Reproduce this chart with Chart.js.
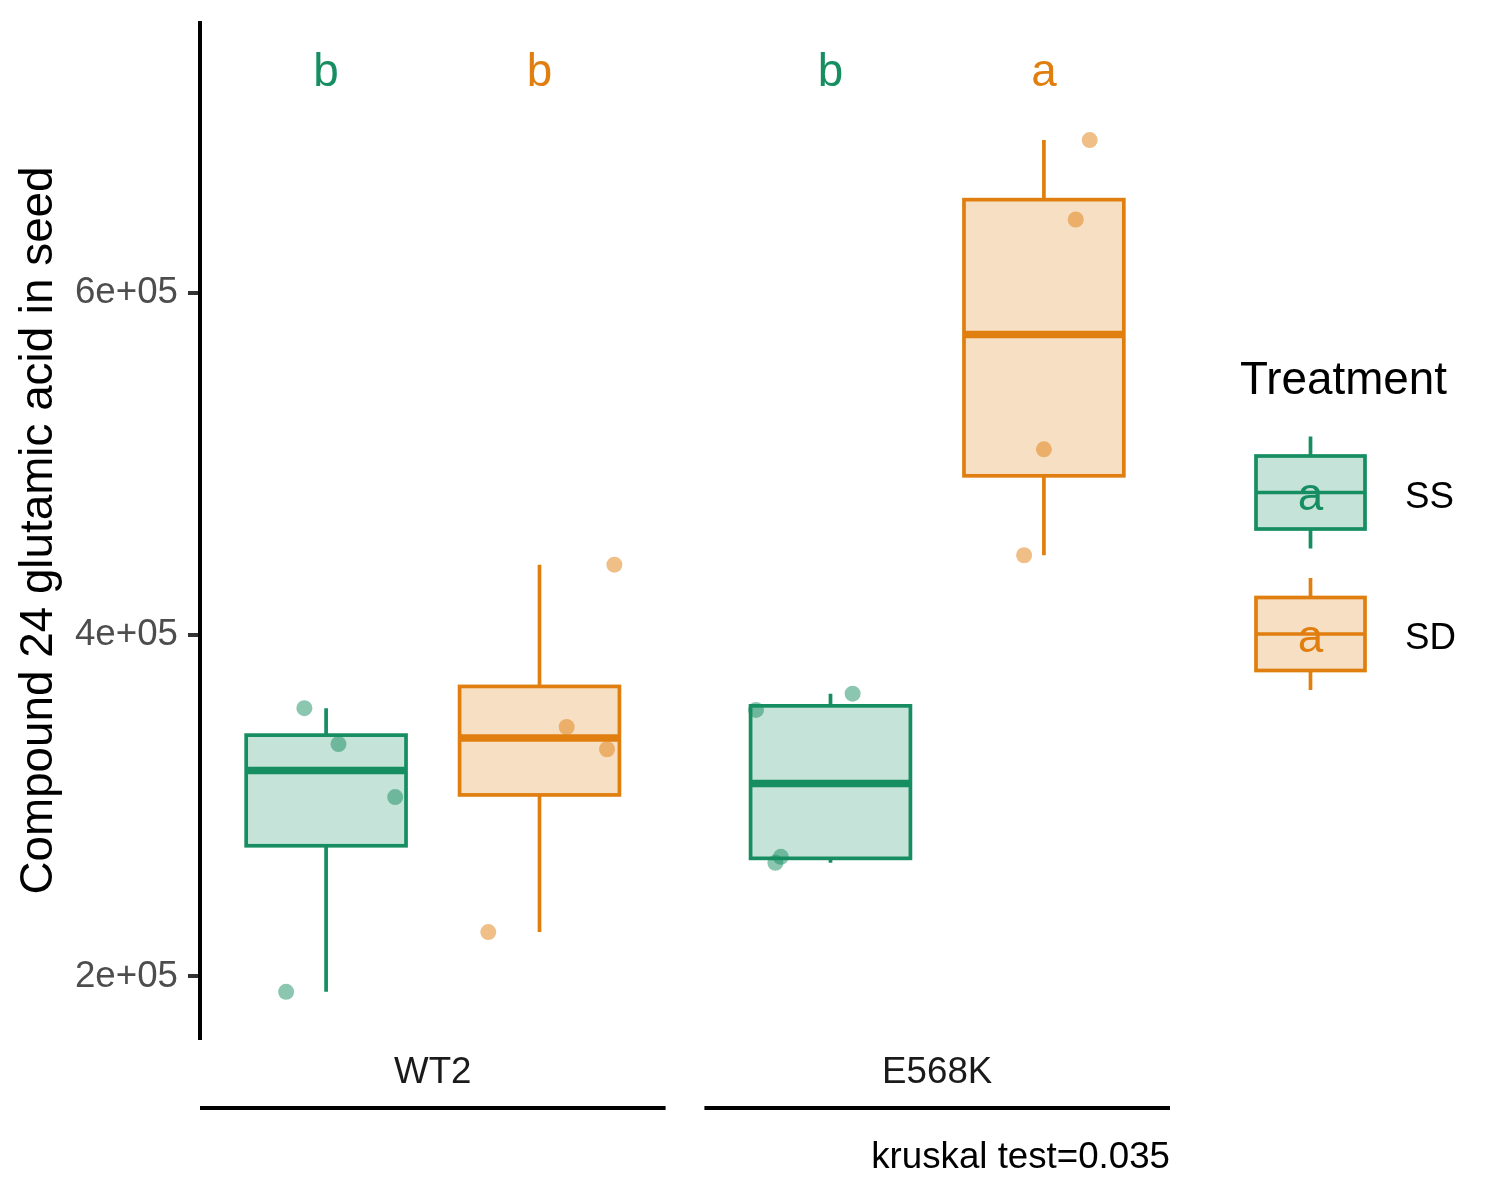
<!DOCTYPE html>
<html>
<head>
<meta charset="utf-8">
<script src="https://cdn.jsdelivr.net/npm/chart.js@4.4.0/dist/chart.umd.min.js"></script>
<style>
  html, body { margin: 0; padding: 0; background: #fff; }
  #wrap { width: 1500px; height: 1200px; }
</style>
</head>
<body>
<div id="wrap"><canvas id="myChart" width="1500" height="1200"></canvas></div>
<script>
// Data
const genotypes = ["WT2", "E568K"];
const treatments = ["SS", "SD"];
// four samples per genotype, per treatment
const ssValues = [[357000, 336000, 305000, 191000], [365500, 356000, 270000, 266500]];
const sdValues = [[441000, 346000, 333000, 226000], [689500, 643000, 508500, 446500]];
// horizontal jitter of each sample (x units)
const ssJitter = [[-0.056, 0.032, 0.178, -0.103], [0.057, -0.192, -0.128, -0.142]];
const sdJitter = [[0.193, 0.070, 0.174, -0.132], [0.118, 0.082, 0.0, -0.051]];
// significance letters
const ssLetters = ["b", "b"];
const sdLetters = ["b", "a"];
const letterY = 728500;
const yTicks = [200000, 400000, 600000];
const yTickLabels = ["2e+05", "4e+05", "6e+05"];
const yTitle = "Compound 24 glutamic acid in seed";
const caption = "kruskal test=0.035";
const legendTitle = "Treatment";

const groupCenters = [1, 2.3];
const dodge = [-0.275, 0.275];
const boxHalf = 0.206;
const panelHalf = 0.6;

const lineColors = ["#168E62", "#E07F10"];
const fillColors = ["rgba(22,142,98,0.25)", "rgba(224,127,16,0.25)"];
const pointColors = ["rgba(22,142,98,0.5)", "rgba(224,127,16,0.5)"];
const FONT = "'Liberation Sans', Arial, sans-serif";
Chart.defaults.font.family = FONT;

const values = [ssValues, sdValues];
const jitters = [ssJitter, sdJitter];
const letters = [ssLetters, sdLetters];

function quantile(sorted, p) {
  const h = (sorted.length - 1) * p;
  const lo = Math.floor(h);
  const next = lo + 1 < sorted.length ? sorted[lo + 1] : sorted[lo];
  return sorted[lo] + (h - lo) * (next - sorted[lo]);
}

function boxStats(arr) {
  const s = arr.slice().sort((a, b) => a - b);
  const q1 = quantile(s, 0.25), med = quantile(s, 0.5), q3 = quantile(s, 0.75);
  const iqr = q3 - q1;
  const lo = Math.min(...s.filter(v => v >= q1 - 1.5 * iqr));
  const hi = Math.max(...s.filter(v => v <= q3 + 1.5 * iqr));
  return { q1, med, q3, lo, hi };
}

const stats = values.map(t => t.map(boxStats));

// box + whiskers, drawn under the points
const boxPlugin = {
  id: "boxes",
  beforeDatasetsDraw(chart) {
    const { ctx, scales: { x, y } } = chart;
    ctx.save();
    treatments.forEach((t, ti) => {
      genotypes.forEach((g, gi) => {
        const s = stats[ti][gi];
        const c = groupCenters[gi] + dodge[ti];
        const x0 = x.getPixelForValue(c - boxHalf);
        const x1 = x.getPixelForValue(c + boxHalf);
        const xc = x.getPixelForValue(c);
        const yt = y.getPixelForValue(s.q3);
        const yb = y.getPixelForValue(s.q1);
        ctx.strokeStyle = lineColors[ti];
        ctx.lineWidth = 3.7;
        ctx.beginPath();
        ctx.moveTo(xc, y.getPixelForValue(s.hi));
        ctx.lineTo(xc, yt);
        ctx.moveTo(xc, yb);
        ctx.lineTo(xc, y.getPixelForValue(s.lo));
        ctx.stroke();
        ctx.fillStyle = fillColors[ti];
        ctx.fillRect(x0, yt, x1 - x0, yb - yt);
        ctx.strokeRect(x0, yt, x1 - x0, yb - yt);
        ctx.lineWidth = 7.5;
        const ym = y.getPixelForValue(s.med);
        ctx.beginPath();
        ctx.moveTo(x0, ym);
        ctx.lineTo(x1, ym);
        ctx.stroke();
      });
    });
    ctx.restore();
  },
  afterDatasetsDraw(chart) {
    const { ctx, scales: { x, y } } = chart;
    ctx.save();
    ctx.font = "45.8px " + FONT;
    ctx.textAlign = "center";
    ctx.textBaseline = "middle";
    treatments.forEach((t, ti) => {
      genotypes.forEach((g, gi) => {
        ctx.fillStyle = lineColors[ti];
        ctx.fillText(letters[ti][gi], x.getPixelForValue(groupCenters[gi] + dodge[ti]), y.getPixelForValue(letterY));
      });
    });
    ctx.restore();
  },
  afterDraw(chart) {
    const { ctx, chartArea, scales: { x } } = chart;
    ctx.save();
    // lines under the genotype labels
    ctx.strokeStyle = "#000";
    ctx.lineWidth = 4;
    const ly = chartArea.bottom + 70;
    groupCenters.forEach(c => {
      ctx.beginPath();
      ctx.moveTo(x.getPixelForValue(c - panelHalf), ly);
      ctx.lineTo(x.getPixelForValue(c + panelHalf), ly);
      ctx.stroke();
    });
    // legend
    const lx = chartArea.right + 70;
    const mid = (chartArea.top + chartArea.bottom) / 2;
    ctx.fillStyle = "#000";
    ctx.font = "45.8px " + FONT;
    ctx.textAlign = "left";
    ctx.textBaseline = "alphabetic";
    ctx.fillText(legendTitle, lx, mid - 137);
    treatments.forEach((t, ti) => {
      const cy = mid - 38 + ti * 141.5;
      const kx0 = lx + 16, kx1 = lx + 125, kc = (kx0 + kx1) / 2;
      ctx.strokeStyle = lineColors[ti];
      ctx.lineWidth = 3.7;
      ctx.beginPath();
      ctx.moveTo(kc, cy - 56);
      ctx.lineTo(kc, cy - 36.5);
      ctx.moveTo(kc, cy + 36.5);
      ctx.lineTo(kc, cy + 56);
      ctx.stroke();
      ctx.fillStyle = fillColors[ti];
      ctx.fillRect(kx0, cy - 36.5, kx1 - kx0, 73);
      ctx.strokeRect(kx0, cy - 36.5, kx1 - kx0, 73);
      ctx.beginPath();
      ctx.moveTo(kx0, cy);
      ctx.lineTo(kx1, cy);
      ctx.stroke();
      ctx.fillStyle = lineColors[ti];
      ctx.font = "45.8px " + FONT;
      ctx.textAlign = "center";
      ctx.textBaseline = "middle";
      ctx.fillText("a", kc, cy + 5);
      ctx.fillStyle = "#000";
      ctx.font = "36.7px " + FONT;
      ctx.textAlign = "left";
      ctx.textBaseline = "alphabetic";
      ctx.fillText(t, lx + 165, cy + 15);
    });
    ctx.restore();
  }
};

const datasets = treatments.map((t, ti) => ({
  label: t,
  data: genotypes.flatMap((g, gi) =>
    values[ti][gi].map((v, k) => ({ x: groupCenters[gi] + dodge[ti] + jitters[ti][gi][k], y: v }))),
  backgroundColor: pointColors[ti],
  borderWidth: 0,
  pointRadius: 8,
  pointHoverRadius: 8
}));

let ctx = document.getElementById("myChart").getContext("2d");
let myChart = new Chart(ctx, {
  type: "scatter",
  data: { datasets: datasets },
  options: {
    responsive: false,
    devicePixelRatio: 1,
    animation: false,
    layout: { padding: { top: 23, right: 330, bottom: 0, left: 0 } },
    plugins: { legend: { display: false }, tooltip: { enabled: false } },
    scales: {
      x: {
        type: "linear",
        min: 0.4,
        max: 2.9,
        grid: { display: false, drawTicks: false },
        border: { display: false },
        afterBuildTicks: s => { s.ticks = groupCenters.map(v => ({ value: v })); },
        afterFit: s => { s.height = 162; s.paddingLeft = 0; s.paddingRight = 0; },
        ticks: {
          callback: (v, i) => genotypes[i],
          color: "#1A1A1A",
          font: { size: 36.7 },
          padding: 13,
          maxRotation: 0,
          autoSkip: false
        },
        title: {
          display: true,
          text: caption,
          align: "end",
          color: "#000",
          font: { size: 36.7 },
          padding: { top: 0, bottom: 20 }
        }
      },
      y: {
        min: 164000,
        max: 758000,
        afterBuildTicks: s => { s.ticks = yTicks.map(v => ({ value: v })); },
        afterFit: s => { s.width = 200; s.paddingTop = 0; s.paddingBottom = 0; },
        ticks: {
          callback: (v, i) => yTickLabels[i],
          color: "#4D4D4D",
          font: { size: 36.7 },
          padding: 10
        },
        grid: {
          display: true,
          drawOnChartArea: false,
          drawTicks: true,
          tickLength: 12,
          tickColor: "#333333",
          tickWidth: 4,
          lineWidth: 4
        },
        border: { display: true, color: "#000", width: 4 },
        title: {
          display: true,
          text: yTitle,
          color: "#000",
          font: { size: 45.8 },
          padding: { top: 12, bottom: 0 }
        }
      }
    }
  },
  plugins: [boxPlugin]
});
</script>
</body>
</html>
